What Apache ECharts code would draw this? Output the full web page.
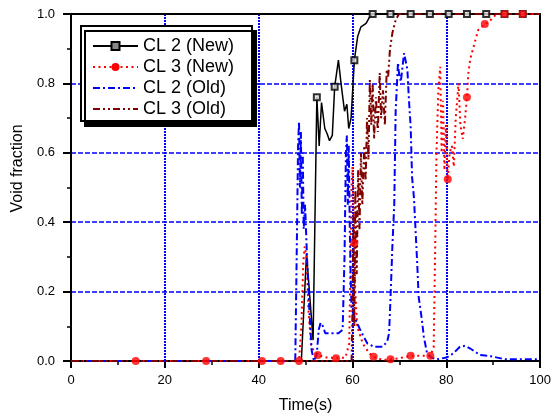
<!DOCTYPE html>
<html><head><meta charset="utf-8">
<script src="https://cdn.jsdelivr.net/npm/echarts@6/dist/echarts.min.js"></script>
<style>html,body{margin:0;padding:0;background:#fff}#c{width:554px;height:419px}</style>
</head><body><div id="c"></div>
<script>
const seriesNames = ['CL 2 (New)', 'CL 3 (New)', 'CL 2 (Old)', 'CL 3 (Old)'];
const xAxisTitle = 'Time(s)';
const yAxisTitle = 'Void fraction';

// CL 2 (New): [time, void fraction]
const cl2New = [[0,0],[49.1,0],[50.2,0.31],[51.6,0.06],[51.9,0.06],[52.4,0.76],[52.9,0.62],[53.4,0.745],[54.1,0.67],[54.6,0.655],[55.1,0.635],[55.7,0.65],[56.2,0.79],[57.0,0.867],[57.6,0.795],[58.3,0.72],[58.8,0.74],[59.2,0.67],[59.7,0.70],[60.4,0.867],[61.1,0.935],[61.8,0.963],[62.9,0.973],[63.6,0.99],[64.3,1.0],[100,1.0]];
const cl2NewMarkers = [[52.4,0.76],[56.2,0.79],[60.4,0.867],[64.3,1],[68.1,1],[72.4,1],[76.5,1],[80.5,1],[84.4,1],[88.5,1],[92.4,1],[96.3,1]];

// CL 3 (New)
const cl3New = [[0,0],[13.8,0],[28.8,0],[40.7,0],[44.7,0],[48.6,0],[49.1,0.1],[49.5,0.28],[49.8,0.33],[50.2,0.3],[50.6,0.15],[51.2,0.04],[52.6,0.017],[54.5,0.01],[56.5,0.008],[58.5,0.01],[59.3,0.05],[59.6,0.3],[59.8,0.5],[60.0,0.56],[60.2,0.45],[60.4,0.34],[60.6,0.2],[61.0,0.1],[62.2,0.05],[63.6,0.022],[64.5,0.012],[66.5,0.003],[68.1,0.005],[70,0.008],[72.4,0.015],[76.6,0.015],[77.3,0.04],[77.6,0.3],[77.9,0.6],[78.3,0.78],[78.7,0.848],[79.0,0.6],[79.3,0.75],[79.6,0.55],[79.9,0.68],[80.3,0.524],[80.7,0.6],[81.2,0.62],[81.6,0.56],[82.0,0.7],[82.6,0.80],[83.0,0.68],[83.5,0.64],[84.0,0.7],[84.4,0.76],[84.7,0.83],[85.1,0.87],[86.1,0.92],[86.8,0.954],[88.2,0.971],[88.9,0.975],[90.7,1.0],[92.4,1.0],[96.3,1.0],[100,1.0]];
const cl3NewMarkers = [[13.8,0],[28.8,0],[40.7,0],[44.7,0],[48.6,0],[52.6,0.017],[56.5,0.008],[60.4,0.34],[64.5,0.012],[68.1,0.005],[72.4,0.015],[76.6,0.015],[80.3,0.524],[84.4,0.76],[88.2,0.971],[92.4,1],[96.3,1]];

// CL 2 (Old)
const cl2Old = [[0,0],[47.8,0],[48.1,0.3],[48.4,0.62],[48.6,0.69],[48.8,0.5],[49.0,0.66],[49.2,0.42],[49.4,0.6],[49.6,0.38],[49.9,0.45],[50.3,0.3],[50.8,0.15],[51.3,0.03],[51.8,0.0],[52.4,0.02],[52.8,0.09],[53.2,0.11],[53.7,0.10],[54.2,0.08],[57.0,0.08],[57.9,0.09],[58.3,0.3],[58.6,0.6],[58.8,0.65],[59.0,0.45],[59.2,0.62],[59.4,0.4],[59.6,0.25],[59.8,0.15],[60.7,0.118],[61.8,0.085],[63.2,0.05],[64.6,0.041],[66.4,0.041],[67.4,0.056],[67.8,0.08],[68.1,0.18],[68.5,0.33],[68.9,0.45],[69.2,0.72],[69.7,0.86],[69.9,0.83],[70.3,0.805],[71.0,0.887],[71.2,0.89],[71.7,0.84],[72.0,0.76],[72.4,0.675],[72.7,0.53],[73.1,0.47],[73.8,0.28],[74.1,0.185],[74.8,0.118],[75.2,0.07],[75.9,0.022],[76.8,0.01],[78,0.005],[80.1,0.01],[81.5,0.022],[82.9,0.041],[84.0,0.044],[85.1,0.036],[87.2,0.017],[89.4,0.014],[92.5,0.005],[100,0.005]];

// CL 3 (Old)
const cl3Old = [[0,0],[59.8,0],[60.0,0.15],[60.2,0.42],[60.4,0.1],[60.6,0.5],[60.9,0.25],[61.2,0.55],[61.5,0.38],[61.8,0.6],[62.1,0.45],[62.5,0.62],[62.8,0.52],[63.1,0.7],[63.4,0.58],[63.7,0.81],[64.0,0.68],[64.3,0.8],[64.6,0.64],[65.0,0.76],[65.4,0.66],[65.8,0.83],[66.1,0.7],[66.5,0.78],[66.9,0.68],[67.3,0.84],[67.6,0.82],[68.0,0.9],[68.5,0.945],[69.2,0.983],[69.9,1.0],[100,1.0]];

const FONT = 'Liberation Sans, Arial, sans-serif';
const chart = echarts.init(document.getElementById('c'), null, {renderer: 'canvas'});
const axisLineStyle = {color: '#000', width: 2};
chart.setOption({
  animation: false,
  backgroundColor: '#fff',
  textStyle: {fontFamily: FONT},
  grid: {left: 71, right: 11, top: 14, bottom: 58, containLabel: false},
  legend: {
    orient: 'vertical', left: 81, top: 26,
    data: [
      {name: seriesNames[0]},
      {name: seriesNames[1]},
      {name: seriesNames[2], itemStyle: {opacity: 0}},
      {name: seriesNames[3], itemStyle: {opacity: 0}}
    ],
    itemWidth: 45, itemHeight: 10, itemGap: 3,
    padding: [11, 18, 3, 11],
    backgroundColor: '#fff', borderColor: '#000', borderWidth: 2,
    shadowColor: '#000', shadowBlur: 0, shadowOffsetX: 4, shadowOffsetY: 5,
    textStyle: {fontSize: 18, color: '#000', fontFamily: FONT},
    selectedMode: false
  },
  xAxis: [{
    type: 'value', min: 0, max: 100, interval: 20, position: 'bottom',
    name: xAxisTitle, nameLocation: 'middle', nameGap: 37,
    nameTextStyle: {fontSize: 16, color: '#000', fontFamily: FONT},
    axisLine: {show: true, onZero: false, lineStyle: axisLineStyle},
    axisTick: {show: true, length: 7, lineStyle: axisLineStyle},
    minorTick: {show: true, splitNumber: 2, length: 4, lineStyle: {color: '#000', width: 1.5}},
    axisLabel: {fontSize: 13, color: '#000', margin: 13, fontFamily: FONT},
    splitLine: {show: true, showMinLine: false, showMaxLine: false, lineStyle: {color: '#0000ff', width: 2, type: [2, 1]}}
  }, {
    type: 'value', min: 0, max: 100, position: 'top',
    axisLine: {show: true, onZero: false, lineStyle: axisLineStyle},
    axisTick: {show: false}, axisLabel: {show: false}, splitLine: {show: false}
  }],
  yAxis: [{
    type: 'value', min: 0, max: 1, interval: 0.2, position: 'left',
    name: yAxisTitle, nameLocation: 'middle', nameGap: 43,
    nameTextStyle: {fontSize: 16, color: '#000', fontFamily: FONT, padding: [0, 0, 0, 38]},
    axisLine: {show: true, onZero: false, lineStyle: axisLineStyle},
    axisTick: {show: true, length: 8, lineStyle: axisLineStyle},
    minorTick: {show: true, splitNumber: 2, length: 4, lineStyle: {color: '#000', width: 1.5}},
    axisLabel: {fontSize: 13, color: '#000', margin: 16, fontFamily: FONT, formatter: v => v.toFixed(1)},
    splitLine: {show: true, showMinLine: false, showMaxLine: false, lineStyle: {color: '#0000ff', width: 1.5, type: [5, 2]}}
  }, {
    type: 'value', min: 0, max: 1, position: 'right',
    axisLine: {show: true, onZero: false, lineStyle: axisLineStyle},
    axisTick: {show: false}, axisLabel: {show: false}, splitLine: {show: false}
  }],
  series: [
    {name: seriesNames[0], type: 'line', data: cl2New, symbol: 'rect', symbolSize: 7, showSymbol: false,
     lineStyle: {color: '#000', width: 1.5}, itemStyle: {color: '#888', borderColor: '#000', borderWidth: 2.5}, z: 2},
    {name: seriesNames[1], type: 'line', data: cl3New, symbol: 'circle', symbolSize: 8, showSymbol: false,
     lineStyle: {color: '#ff0000', width: 2, type: [2, 3.5]}, itemStyle: {color: '#ff0000'}, z: 3},
    {name: seriesNames[2], type: 'line', data: cl2Old, symbol: 'none',
     lineStyle: {color: '#0000ff', width: 2, type: [7, 3, 2, 3]}, itemStyle: {color: '#0000ff'}, z: 4},
    {name: seriesNames[3], type: 'line', data: cl3Old, symbol: 'none',
     lineStyle: {color: '#800000', width: 2, type: [7, 3, 2, 3, 2, 3]}, itemStyle: {color: '#800000'}, z: 5},
    {name: seriesNames[0], type: 'scatter', data: cl2NewMarkers, symbol: 'rect', symbolSize: 6,
     itemStyle: {color: '#ddd', borderColor: '#000', borderWidth: 2}, z: 6},
    {name: seriesNames[1], type: 'scatter', data: cl3NewMarkers, symbol: 'circle', symbolSize: 8,
     itemStyle: {color: '#ff0000'}, z: 7}
  ]
});
</script>
</body></html>
